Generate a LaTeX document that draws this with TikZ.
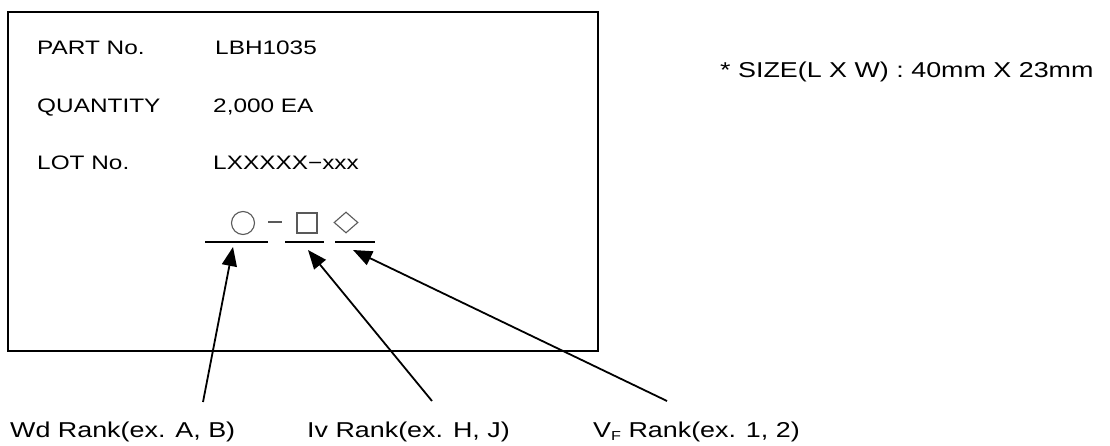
\documentclass[tikz,border=0pt]{standalone}
\usepackage{fontspec}
\setmainfont[FakeStretch=1.25]{Liberation Sans}
\usetikzlibrary{arrows.meta,shapes.geometric}

\begin{document}
\begin{tikzpicture}[x=1pt,y=-1pt,>={Triangle[length=19pt,width=15pt]},
  field node/.style={anchor=base west,inner sep=0pt,font=\fontsize{19.5}{22}\selectfont},
  rank node/.style={anchor=base west,inner sep=0pt,font=\fontsize{21.5}{24}\selectfont},
  mark node/.style={draw=black!65,line width=1.1pt,inner sep=0pt},
  rank line/.style={line width=2pt},
  rank arrow/.style={->,line width=1.8pt}]

  \useasboundingbox (0,0) rectangle (1110,446);

  % label outline
  \draw[line width=2.4pt] (8,12) rectangle (598,351);

  \node[field node] (part)     at (37,55)  {PART No.};
  \node[field node] (partval)  at (215,55) {LBH1035};
  \node[field node] (qty)      at (37,113) {QUANTITY};
  \node[field node] (qtyval)   at (213,113) {2,000 EA};
  \node[field node] (lot)      at (37,170) {LOT No.};
  \node[field node] (lotval)   at (213,170) {LXXXXX−xxx};

  \node[rank node] (size) at (720,78) {* SIZE(L X W) : 40mm X 23mm};

  % rank marks
  \node[mark node,circle,minimum size=23pt]    (wdmark) at (243,223) {};
  \draw[black!65,line width=1.1pt] (268,222) -- (282,222);
  \node[mark node,rectangle,minimum size=20pt] (ivmark) at (307,223) {};
  \node[mark node,diamond,minimum width=24pt,minimum height=21pt] (vfmark) at (346,222.5) {};

  \draw[rank line] (205,242) -- (268,242);
  \draw[rank line] (285,242) -- (324,242);
  \draw[rank line] (335,242) -- (375,242);

  \node[rank node] (wd) at (10,437)  {Wd Rank(ex. A, B)};
  \node[rank node] (iv) at (307,437) {Iv Rank(ex. H, J)};
  \node[rank node] (vf) at (593,437) {V\raisebox{-3pt}{\fontsize{13}{13}\selectfont F} Rank(ex. 1, 2)};

  \coordinate (wdtail) at (203,402);
  \coordinate (ivtail) at (432,401);
  \coordinate (vftail) at (667,401);
  \coordinate (wdtip)  at (233,247);
  \coordinate (ivtip)  at (308,250);
  \coordinate (vftip)  at (353,250);

  \draw[rank arrow] (wdtail) -- (wdtip);
  \draw[rank arrow] (ivtail) -- (ivtip);
  \draw[rank arrow] (vftail) -- (vftip);
\end{tikzpicture}
\end{document}
